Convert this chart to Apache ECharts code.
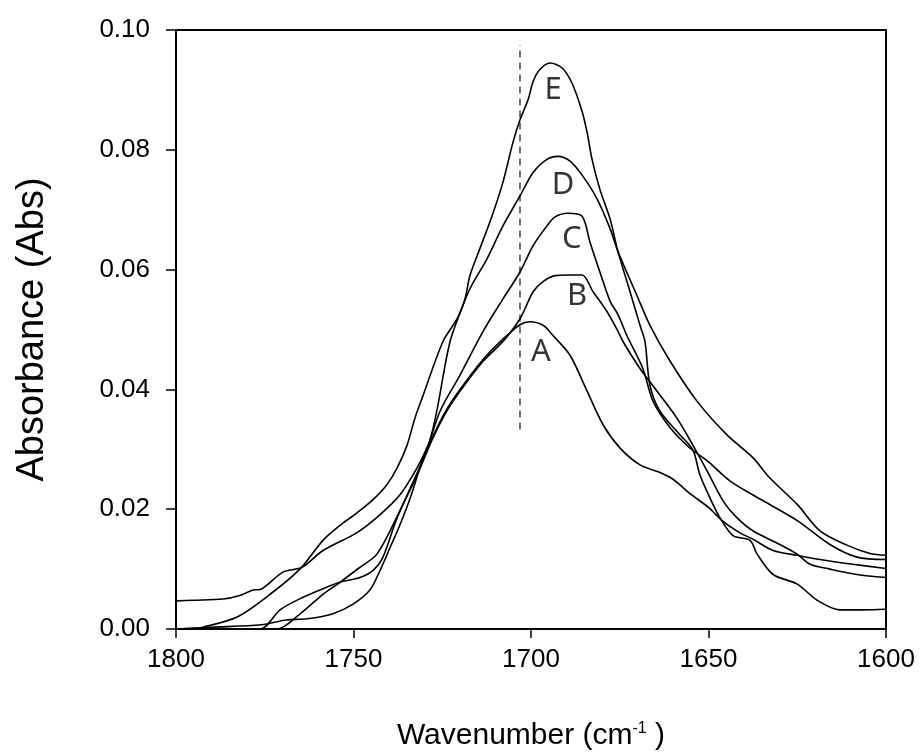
<!DOCTYPE html>
<html>
<head>
<meta charset="utf-8">
<script src="https://cdn.jsdelivr.net/npm/echarts@6/dist/echarts.min.js"></script>
<style>
html,body{margin:0;padding:0;background:#fff;}
#chart{width:920px;height:756px;}
</style>
</head>
<body>
<div id="chart"></div>
<script>
// ---- data (wavenumber in cm-1, absorbance) ----
const xTicks = [1800, 1750, 1700, 1650, 1600];
const yTicks = [0.00, 0.02, 0.04, 0.06, 0.08, 0.10];

const waveA = [1800, 1771.5, 1765.1, 1758.6, 1753.8, 1748.2, 1743.4, 1737.7, 1732.1, 1727.6, 1723.7, 1720, 1713.5, 1707.9, 1703.1, 1700.3, 1696.6, 1693.8, 1689, 1684.2, 1679.7, 1674.9, 1669.3, 1664, 1660, 1655, 1650, 1646, 1641, 1637.5, 1631.8, 1625, 1618.6, 1609.3, 1600];
const absA  = [0, 0, 0.0025, 0.0058, 0.0078, 0.0103, 0.0125, 0.0188, 0.0260, 0.0322, 0.0367, 0.0400, 0.0450, 0.0484, 0.0508, 0.0513, 0.0507, 0.0490, 0.0457, 0.0397, 0.0341, 0.0302, 0.0274, 0.0262, 0.0250, 0.0225, 0.0203, 0.0180, 0.0160, 0.0150, 0.0131, 0.0123, 0.0116, 0.0108, 0.0101];

const waveB = [1800, 1776.3, 1770.7, 1764.2, 1757.5, 1753.8, 1748.2, 1744.5, 1741.7, 1737.7, 1732.1, 1727.6, 1723.7, 1720, 1713.5, 1707.9, 1703.1, 1699.4, 1696.6, 1693.2, 1689.6, 1685.6, 1682.5, 1678.6, 1675.5, 1674.1, 1669.3, 1664.5, 1658.9, 1654.4, 1650.4, 1645.9, 1642, 1637.5, 1629.9, 1625, 1621.4, 1615.8, 1608.2, 1600];
const absB  = [0, 0, 0.0032, 0.0053, 0.0070, 0.0078, 0.0086, 0.0098, 0.0120, 0.0186, 0.0257, 0.0319, 0.0364, 0.0397, 0.0447, 0.0480, 0.0518, 0.0563, 0.0580, 0.0590, 0.0591, 0.0591, 0.0563, 0.0530, 0.0497, 0.0480, 0.0435, 0.0397, 0.0352, 0.0307, 0.0264, 0.0214, 0.0186, 0.0164, 0.0141, 0.0125, 0.0108, 0.0100, 0.0091, 0.0086];

const waveC = [1800, 1795, 1786.8, 1782, 1778.3, 1776.3, 1769.9, 1764.5, 1758.6, 1749, 1742.5, 1736.9, 1732.1, 1729, 1725.6, 1720, 1713.5, 1707.9, 1703.1, 1699.4, 1695.5, 1693.2, 1689.6, 1685.6, 1683.4, 1680.6, 1677.7, 1675.5, 1673, 1668.5, 1665.6, 1660.8, 1655.2, 1650.4, 1643.9, 1634.6, 1625, 1615.8, 1608.2, 1600];
const absC  = [0.0047, 0.0048, 0.0050, 0.0056, 0.0065, 0.0066, 0.0095, 0.0103, 0.0131, 0.0161, 0.0191, 0.0224, 0.0269, 0.0307, 0.0364, 0.0424, 0.0497, 0.0551, 0.0596, 0.0640, 0.0673, 0.0688, 0.0694, 0.0689, 0.0646, 0.0596, 0.0547, 0.0525, 0.0490, 0.0435, 0.0380, 0.0336, 0.0302, 0.0281, 0.0247, 0.0214, 0.0181, 0.0141, 0.0120, 0.0116];

const waveD = [1800, 1795, 1792.4, 1782.8, 1773.5, 1765.1, 1758.6, 1753.8, 1749, 1744.5, 1740.6, 1737.7, 1734.9, 1732.7, 1730.4, 1724.8, 1720.8, 1717.2, 1712.4, 1707.9, 1703.1, 1699.4, 1695.5, 1692.4, 1689, 1685.4, 1681.4, 1677.7, 1675.5, 1670.1, 1666.5, 1660.8, 1653.2, 1644.8, 1637.5, 1632.7, 1625, 1618.6, 1611, 1604.5, 1600];
const absD  = [0, 0.0001, 0.0003, 0.0020, 0.0058, 0.0100, 0.0148, 0.0173, 0.0194, 0.0216, 0.0241, 0.0269, 0.0307, 0.0352, 0.0390, 0.0480, 0.0518, 0.0568, 0.0618, 0.0673, 0.0723, 0.0762, 0.0784, 0.0789, 0.0781, 0.0756, 0.0718, 0.0668, 0.0630, 0.0556, 0.0507, 0.0447, 0.0380, 0.0324, 0.0286, 0.0252, 0.0208, 0.0164, 0.0140, 0.0126, 0.0123];

const waveE = [1800, 1790, 1776, 1769, 1763, 1756, 1750, 1745.4, 1742.5, 1739.7, 1736.9, 1734, 1731.3, 1728.5, 1726.5, 1722.8, 1718.6, 1717.2, 1714.4, 1711, 1707.9, 1705.1, 1703.1, 1700.8, 1699.4, 1697.5, 1694.6, 1691.3, 1688.5, 1685.6, 1684.2, 1682.8, 1680.6, 1677.7, 1675.5, 1672.1, 1669.3, 1667.9, 1666.5, 1663.7, 1658, 1654.4, 1652.4, 1649.6, 1646.8, 1643.1, 1638.3, 1636.3, 1631.8, 1625, 1619.4, 1613, 1606.5, 1600];
const absE  = [0, 0.0003, 0.0007, 0.0015, 0.0017, 0.0025, 0.0042, 0.0065, 0.0098, 0.0136, 0.0174, 0.0219, 0.0269, 0.0314, 0.0365, 0.0480, 0.0551, 0.0590, 0.0635, 0.0689, 0.0746, 0.0812, 0.0850, 0.0884, 0.0914, 0.0934, 0.0945, 0.0937, 0.0912, 0.0864, 0.0829, 0.0784, 0.0734, 0.0684, 0.0630, 0.0563, 0.0507, 0.0480, 0.0407, 0.0364, 0.0324, 0.0299, 0.0257, 0.0219, 0.0186, 0.0156, 0.0148, 0.0125, 0.0091, 0.0075, 0.0048, 0.0032, 0.0032, 0.0033];

// dashed marker line
const markerWave = [1703.1, 1703.1];
const markerAbs  = [0.0333, 0.0975];

// curve labels
const labelNames = ['E', 'D', 'C', 'B', 'A'];
const labelWave  = [1693.8, 1691.0, 1688.5, 1687.0, 1697.2];
const labelAbs   = [0.0900, 0.0741, 0.0651, 0.0555, 0.0462];

// ---- build ----
function zip(xs, ys) { return xs.map((x, i) => [x, ys[i]]); }

const curves = [
  ['A', waveA, absA], ['B', waveB, absB], ['C', waveC, absC],
  ['D', waveD, absD], ['E', waveE, absE]
];

const series = curves.map(c => ({
  name: c[0],
  type: 'line',
  data: zip(c[1], c[2]),
  showSymbol: false,
  smooth: 0.3,
  lineStyle: { color: '#000', width: 1.6 },
  silent: true,
  z: 3
}));

series.push({
  name: 'marker',
  type: 'line',
  data: zip(markerWave, markerAbs),
  showSymbol: false,
  lineStyle: { color: '#444', width: 1.5, type: [7, 5] },
  silent: true,
  z: 2
});

series.push({
  name: 'labels',
  type: 'scatter',
  symbolSize: 1,
  itemStyle: { color: 'rgba(0,0,0,0)' },
  data: labelNames.map((n, i) => ({ value: [labelWave[i], labelAbs[i]], name: n })),
  label: {
    show: true,
    position: 'inside',
    formatter: p => p.name,
    fontFamily: 'Noto Sans',
    fontSize: 31,
    color: '#000'
  },
  silent: true,
  z: 5
});

const chart = echarts.init(document.getElementById('chart'), null, { renderer: 'canvas' });
chart.setOption({
  animation: false,
  backgroundColor: '#fff',
  grid: {
    left: 176, right: 34, top: 30, bottom: 124,
    show: true, borderColor: '#000', borderWidth: 2, backgroundColor: 'transparent'
  },
  xAxis: {
    type: 'value',
    inverse: true,
    min: xTicks[xTicks.length - 1],
    max: xTicks[0],
    interval: 50,
    axisLine: { show: true, lineStyle: { color: '#000', width: 2 } },
    axisTick: { show: true, length: 9, lineStyle: { color: '#000', width: 1.5 } },
    splitLine: { show: false },
    axisLabel: { color: '#000', fontSize: 26, fontFamily: 'Liberation Sans', margin: 18, formatter: v => String(v) },
    name: 'Wavenumber (cm{sup|-1} )',
    nameLocation: 'middle',
    nameGap: 92,
    nameTextStyle: {
      color: '#000', fontSize: 30, fontFamily: 'Liberation Sans',
      rich: { sup: { fontSize: 16, verticalAlign: 'top', color: '#000', fontFamily: 'Liberation Sans', padding: [0, 0, 14, 0] } }
    }
  },
  yAxis: {
    type: 'value',
    min: yTicks[0],
    max: yTicks[yTicks.length - 1],
    interval: 0.02,
    axisLine: { show: true, lineStyle: { color: '#000', width: 2 } },
    axisTick: { show: true, length: 10, lineStyle: { color: '#000', width: 1.5 } },
    splitLine: { show: false },
    axisLabel: { color: '#000', fontSize: 26, fontFamily: 'Liberation Sans', margin: 26, formatter: v => v.toFixed(2) },
    name: 'Absorbance (Abs)',
    nameLocation: 'middle',
    nameGap: 124,
    nameTextStyle: { color: '#000', fontSize: 38, fontFamily: 'Liberation Sans' }
  },
  series: series
});
</script>
</body>
</html>
